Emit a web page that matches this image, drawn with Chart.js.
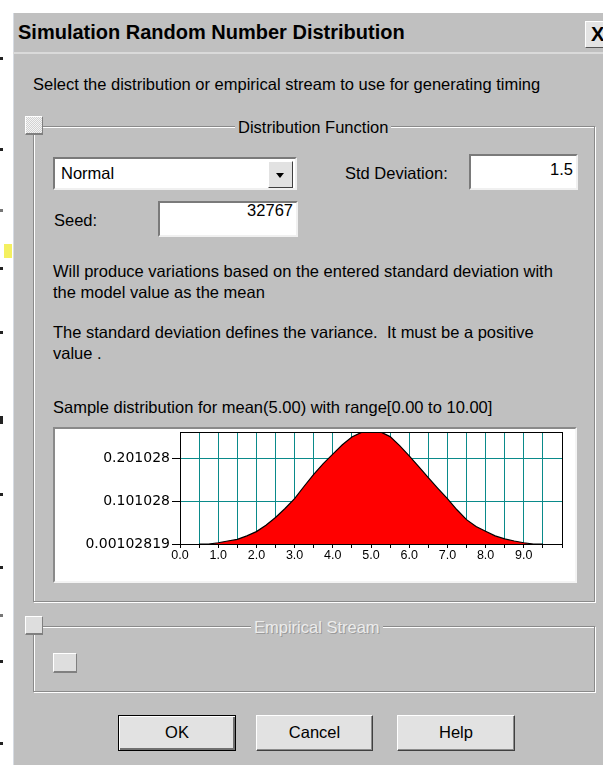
<!DOCTYPE html>
<html>
<head>
<meta charset="utf-8">
<title>Simulation Random Number Distribution</title>
<script src="https://cdn.jsdelivr.net/npm/chart.js"></script>
<style>
body {
    margin: 0;
    width: 603px;
    height: 765px;
    position: relative;
    overflow: hidden;
    background: #fff;
    font-family: "Liberation Sans", Arial, sans-serif;
    font-size: 16.5px;
    color: #000;
}
.abs { position: absolute; }
.txt { position: absolute; line-height: 19px; white-space: pre; }
#dialog {
    left: 13px; top: 13px; width: 600px; height: 760px;
    background: #c0c0c0;
    border-left: 1px solid #d6dbe2;
    box-sizing: border-box;
}
#title {
    left: 18px; top: 20px;
    font-size: 20px; font-weight: bold; line-height: 24px;
}
#title-line { left: 13px; top: 52px; width: 590px; height: 2px; background: #dadada; }
#close {
    left: 585px; top: 21px; width: 24px; height: 27px;
    background: #e4e4e4; box-sizing: border-box;
    border-top: 1px solid #fff; border-left: 1px solid #fff;
    border-bottom: 1px solid #555;
    font-weight: bold; font-size: 20px; line-height: 25px; padding-left: 5px;
}
.group {
    position: absolute; box-sizing: border-box;
    border: 1px solid #8a8a8a;
    box-shadow: inset 1px 1px 0 #fff, 1px 1px 0 #fff;
}
.glabel { position: absolute; line-height: 19px; padding: 0 3px; background: #c0c0c0; white-space: pre; }
.disabled { color: #ececec; text-shadow: 1px 1px 0 #9a9a9a; }
.check {
    position: absolute; box-sizing: border-box;
    background: #dedede;
    border-top: 1px solid #fff; border-left: 1px solid #fff;
    border-right: 1px solid #808080; border-bottom: 2px solid #808080;
}
.check.grey {
    background: repeating-conic-gradient(#f4f4f4 0 25%, #d2d2d2 0 50%) 0 0/2px 2px;
}
.field {
    position: absolute; box-sizing: border-box; background: #fff;
    border-top: 2px solid #7a7a7a; border-left: 2px solid #7a7a7a;
    border-right: 2px solid #f0f0f0; border-bottom: 2px solid #f0f0f0;
    line-height: 19px;
}
.btn {
    position: absolute; box-sizing: border-box; text-align: center;
    background: #e2e2e2; line-height: 33px;
    border-top: 1px solid #fff; border-left: 1px solid #fff;
    border-right: 1px solid #404040; border-bottom: 1px solid #404040;
    box-shadow: inset -1px -1px 0 #8c8c8c;
}
.btn.default { border: 1px solid #000; box-shadow: inset 1px 1px 0 #fff, inset -2px -2px 0 #707070; }
#drop {
    left: 268px; top: 161px; width: 25px; height: 27px;
    background: #e2e2e2; box-sizing: border-box;
    border-top: 1px solid #fff; border-left: 1px solid #fff;
    border-right: 1px solid #404040; border-bottom: 1px solid #404040;
}
#drop-arrow {
    left: 7px; top: 11px; width: 0; height: 0;
    border-left: 4px solid transparent; border-right: 4px solid transparent;
    border-top: 5px solid #000;
}
#chart-box {
    left: 53px; top: 427px; width: 524px; height: 156px;
    box-sizing: border-box; background: #fff;
    border-top: 2px solid #8a8a8a; border-left: 2px solid #8a8a8a;
    border-right: 2px solid #f4f4f4; border-bottom: 2px solid #f4f4f4;
}
#chart-wrap { position: relative; width: 520px; height: 152px; }
.mark { position: absolute; background: #222; width: 3px; height: 3px; left: 0; }
</style>
</head>
<body>

<div class="mark" style="top:57px"></div>
<div class="mark" style="top:148px"></div>
<div class="mark" style="top:209px;background:#777"></div>
<div class="mark" style="top:244px;left:4px;width:8px;height:14px;background:#f4f060"></div>
<div class="mark" style="top:267px"></div>
<div class="mark" style="top:331px"></div>
<div class="mark" style="top:416px;height:8px"></div>
<div class="mark" style="top:493px"></div>
<div class="mark" style="top:566px"></div>
<div class="mark" style="top:614px;background:#777"></div>
<div class="mark" style="top:660px"></div>
<div class="mark" style="top:742px"></div>

<div id="dialog" class="abs"></div>
<div id="title" class="abs">Simulation Random Number Distribution</div>
<div id="title-line" class="abs"></div>
<div id="close" class="abs">X</div>

<div class="txt" style="left:33px;top:75px">Select the distribution or empirical stream to use for generating timing</div>

<div class="group" style="left:33px;top:126px;width:562px;height:476px"></div>
<div class="glabel" style="left:235px;top:118px">Distribution Function</div>
<div class="check grey" style="left:25px;top:116px;width:18px;height:19px"></div>

<div class="field" style="left:53px;top:157px;width:244px;height:33px">
    <span class="abs" style="left:6px;top:5px">Normal</span>
</div>
<div id="drop" class="abs"><div id="drop-arrow" class="abs"></div></div>

<div class="txt" style="left:345px;top:164px">Std Deviation:</div>
<div class="field" style="left:469px;top:154px;width:109px;height:36px">
    <span class="abs" style="right:3px;top:4px">1.5</span>
</div>

<div class="txt" style="left:54px;top:211px">Seed:</div>
<div class="field" style="left:158px;top:201px;width:140px;height:36px">
    <span class="abs" style="right:3px;top:-2px">32767</span>
</div>

<div class="txt" style="left:53px;top:262px">Will produce variations based on the entered standard deviation with</div>
<div class="txt" style="left:53px;top:283px">the model value as the mean</div>
<div class="txt" style="left:53px;top:323px">The standard deviation defines the variance.  It must be a positive</div>
<div class="txt" style="left:53px;top:344px">value .</div>
<div class="txt" style="left:53px;top:398px">Sample distribution for mean(5.00) with range[0.00 to 10.00]</div>

<div id="chart-box" class="abs">
    <div id="chart-wrap"><canvas id="myChart"></canvas></div>
</div>

<div class="group" style="left:33px;top:626px;width:562px;height:66px"></div>
<div class="glabel disabled" style="left:251px;top:618px">Empirical Stream</div>
<div class="check" style="left:25px;top:616px;width:18px;height:19px"></div>
<div class="check" style="left:53px;top:653px;width:24px;height:20px"></div>

<div class="btn default" style="left:118px;top:715px;width:118px;height:36px">OK</div>
<div class="btn" style="left:256px;top:715px;width:117px;height:36px">Cancel</div>
<div class="btn" style="left:397px;top:715px;width:118px;height:36px">Help</div>

<script>
// sample distribution, mean 5.00, std dev 1.5
const sampleX = [0.5, 0.75, 1.0, 1.25, 1.5, 1.75, 2.0, 2.25, 2.5, 2.75, 3.0, 3.25, 3.5, 3.75,
    4.0, 4.25, 4.5, 4.75, 5.0, 5.25, 5.5, 5.75, 6.0, 6.25, 6.5, 6.75, 7.0, 7.25, 7.5, 7.75,
    8.0, 8.25, 8.5, 8.75, 9.0, 9.25, 9.5];
const sampleDensity = [0.00103, 0.00103, 0.004, 0.008, 0.012, 0.020, 0.030, 0.045, 0.063, 0.084,
    0.107, 0.136, 0.164, 0.189, 0.211, 0.233, 0.251, 0.262, 0.266, 0.263, 0.252, 0.231, 0.207,
    0.182, 0.156, 0.131, 0.107, 0.081, 0.058, 0.042, 0.031, 0.020, 0.013, 0.008, 0.004, 0.00103, 0.00103];

const xTickLabels = ['0.0', '1.0', '2.0', '3.0', '4.0', '5.0', '6.0', '7.0', '8.0', '9.0'];
const yTicks = [0.00102819, 0.101028, 0.201028];
const yTickLabels = ['0.00102819', '0.101028', '0.201028'];
const xMin = 0, xMax = 10;
const yMin = 0.00102819, yMax = 0.2628;

const gridColor = '#0a8a8a';

function xLabel(value) {
    let i = Math.round(value);
    if (Math.abs(value - i) > 1e-9 || i >= xTickLabels.length) return '';
    return xTickLabels[i];
}

// black frame round the plot area, over the fill
const plotFrame = {
    id: 'plotFrame',
    afterDatasetsDraw(chart) {
        let a = chart.chartArea;
        let ctx = chart.ctx;
        let l = Math.round(a.left), t = Math.round(a.top);
        let r = Math.round(a.right), b = Math.round(a.bottom);
        ctx.save();
        ctx.strokeStyle = '#000';
        ctx.lineWidth = 1;
        ctx.strokeRect(l + 0.5, t + 0.5, r - l, b - t);
        ctx.restore();
    }
};

let myChart = new Chart(document.getElementById('myChart').getContext('2d'), {
    type: 'line',
    data: {
        datasets: [{
            label: 'sample',
            data: sampleX.map((x, i) => ({x: x, y: sampleDensity[i]})),
            borderColor: '#000',
            borderWidth: 1.2,
            backgroundColor: '#ff0000',
            fill: 'start',
            pointRadius: 0,
            tension: 0
        }]
    },
    options: {
        responsive: true,
        maintainAspectRatio: false,
        animation: false,
        events: [],
        layout: { padding: { top: 3, right: 13, left: 0, bottom: 0 } },
        plugins: {
            legend: { display: false },
            tooltip: { enabled: false }
        },
        scales: {
            x: {
                type: 'linear',
                min: xMin,
                max: xMax,
                border: { display: false },
                grid: { color: gridColor, tickColor: '#000', tickLength: 4 },
                ticks: {
                    stepSize: 0.5,
                    autoSkip: false,
                    maxRotation: 0,
                    padding: 1,
                    color: '#000',
                    font: { family: "'Liberation Sans', Arial", size: 12.5, lineHeight: 1 },
                    callback: xLabel
                },
                afterFit: (scale) => {
                    scale.height = 37;
                    scale.paddingLeft = 0;
                    scale.paddingRight = 0;
                }
            },
            y: {
                min: yMin,
                max: yMax,
                border: { display: false },
                grid: { color: gridColor, tickColor: '#000', tickLength: 8 },
                ticks: {
                    padding: 2,
                    color: '#000',
                    font: { family: "'DejaVu Sans'", size: 14 },
                    callback: (value, index) => yTickLabels[index]
                },
                afterBuildTicks: (scale) => {
                    scale.ticks = yTicks.map(v => ({value: v}));
                },
                afterFit: (scale) => {
                    scale.width = 125;
                    scale.paddingTop = 0;
                    scale.paddingBottom = 0;
                }
            }
        }
    },
    plugins: [plotFrame]
});
</script>
</body>
</html>
